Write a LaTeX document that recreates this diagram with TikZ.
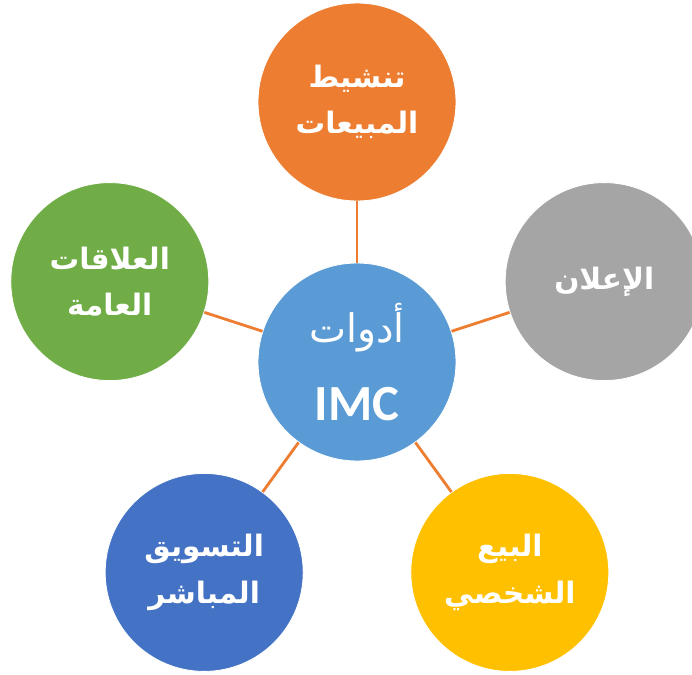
\documentclass[tikz,border=0pt]{standalone}
\usepackage{fontspec}
\setmainfont{Carlito}
\newfontfamily\arabicfont[Script=Arabic]{DejaVu Sans}
\TeXXeTstate=1
\usepackage{tikz}
\usetikzlibrary{shapes}
\usepackage{xcolor}
\definecolor{imcblue}{HTML}{5B9BD5}
\definecolor{promoorange}{HTML}{ED7D31}
\definecolor{adgray}{HTML}{A5A5A5}
\definecolor{sellyellow}{HTML}{FFC000}
\definecolor{directblue}{HTML}{4472C4}
\definecolor{prgreen}{HTML}{70AD47}

\begin{document}
\begin{tikzpicture}[-, main node/.style={circle, draw=white, line width=0.6pt, minimum size=4.95cm, inner sep=0pt, text=white, align=center, font=\arabicfont\bfseries\fontsize{21}{33}\selectfont}, link/.style={draw=promoorange, line width=2pt}]
\useasboundingbox (-8.925,-7.8) rectangle (8.375,9.05);
\node[main node, fill=imcblue] (0) at (0,0) {{\mdseries\fontsize{28}{30}\selectfont\beginR أدوات\endR}\\[22pt]{\normalfont\bfseries\fontsize{36}{40}\selectfont IMC}};
\node[main node, fill=promoorange] (1) at (0,6.5) {\beginR تنشيط\endR\\\beginR المبيعات\endR};
\node[main node, fill=adgray] (2) at (6.18,2.01) {\beginR الإعلان\endR};
\node[main node, fill=sellyellow] (3) at (3.82,-5.26) {\beginR البيع\endR\\\beginR الشخصي\endR};
\node[main node, fill=directblue] (4) at (-3.82,-5.26) {\beginR التسويق\endR\\\beginR المباشر\endR};
\node[main node, fill=prgreen] (5) at (-6.18,2.01) {\beginR العلاقات\endR\\\beginR العامة\endR};
\path[link]
(0) edge (1)
(0) edge (2)
(0) edge (3)
(0) edge (4)
(0) edge (5);
\end{tikzpicture}
\end{document}
